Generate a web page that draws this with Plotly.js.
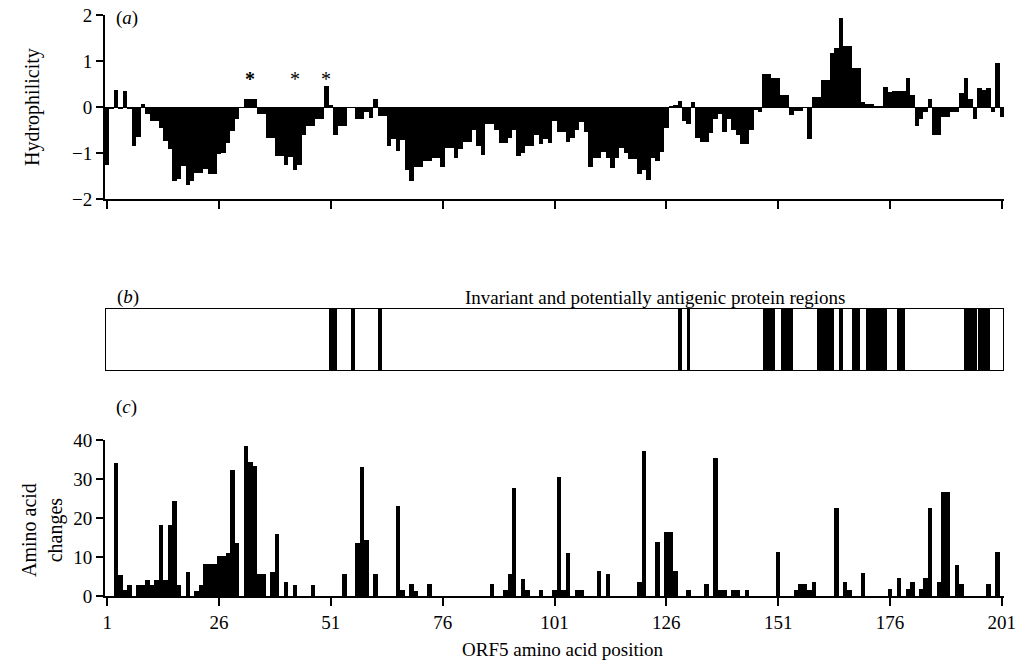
<!DOCTYPE html>
<html><head><meta charset="utf-8">
<script src="https://cdn.plot.ly/plotly-3.0.1.min.js"></script>
<style>html,body{margin:0;padding:0;background:#fff}#chart{width:1021px;height:666px}</style>
</head><body><div id="chart"></div>
<script>
// Panel (a): hydrophilicity per residue 1..201
const hydrophilicity = [
 -1.25,-0.05,0.38,-0.05,0.35,-0.05,-0.85,-0.65,0.07,-0.16,
 -0.3,-0.3,-0.45,-0.74,-0.92,-1.61,-1.57,-1.28,-1.7,-1.61,
 -1.43,-1.43,-1.35,-1.45,-1.45,-1.03,-1.01,-0.78,-0.52,-0.27,
 -0.02,0.17,0.17,0.17,-0.16,-0.16,-0.67,-0.67,-1.06,-1.06,
 -1.26,-1.09,-1.38,-1.25,-0.6,-0.42,-0.42,-0.27,-0.27,0.46,
 0.05,-0.6,-0.42,-0.42,-0.02,-0.02,-0.27,-0.27,-0.1,-0.23,
 0.17,-0.2,-0.2,-0.85,-0.7,-0.95,-0.72,-1.38,-1.6,-1.3,
 -1.3,-1.17,-1.17,-1.1,-1.1,-1.3,-0.9,-0.9,-1.1,-0.92,
 -0.75,-0.75,-0.5,-0.85,-1.05,-0.38,-0.38,-0.5,-0.78,-0.78,
 -0.67,-0.5,-1.07,-1.0,-0.85,-0.85,-0.6,-0.8,-0.7,-0.78,
 -0.3,-0.55,-0.55,-0.75,-0.68,-0.5,-0.33,-0.55,-1.3,-1.1,
 -1.1,-0.97,-1.1,-1.33,-1.1,-0.9,-1.0,-1.12,-1.12,-1.45,
 -1.38,-1.58,-1.1,-1.18,-0.98,-0.45,0.03,0.05,0.14,-0.3,
 -0.38,0.1,-0.68,-0.75,-0.75,-0.57,-0.27,-0.15,-0.55,-0.25,
 -0.5,-0.6,-0.8,-0.8,-0.5,-0.07,-0.1,0.72,0.72,0.62,
 0.62,0.27,0.27,-0.18,-0.08,-0.08,-0.03,-0.7,0.22,0.22,
 0.58,0.58,1.18,1.28,1.93,1.32,1.32,0.85,0.85,0.1,
 0.07,0.07,0.02,0.02,0.43,0.32,0.35,0.35,0.35,0.62,
 0.27,-0.42,-0.27,-0.1,0.17,-0.6,-0.6,-0.22,-0.22,-0.1,
 -0.1,0.3,0.62,0.17,-0.27,0.42,0.38,0.42,-0.1,0.95,
 -0.22
];
const residues = hydrophilicity.map((v, i) => i + 1);

// Asterisk marks in panel (a)
const asteriskPositions = [33, 43, 50];

// Panel (b): invariant / potentially antigenic regions (start, end residue)
const bandStart = [51,56,62,129,131,148,152,160,165,168,171,178,193,196];
const bandEnd   = [52,56,62,129,131,150,154,163,165,169,175,179,195,198];

// Panel (c): amino acid changes (non-zero positions)
const changePositions = [3,4,5,6,8,9,10,11,12,13,14,15,16,17,19,21,22,23,24,25,26,27,28,29,30,32,33,34,35,36,38,39,41,43,47,54,57,58,59,61,66,67,69,70,73,87,90,91,92,94,95,98,101,102,103,104,106,107,111,113,120,121,124,126,127,128,131,135,137,138,139,141,142,144,151,155,156,157,158,159,164,166,167,170,176,178,180,181,183,184,185,187,188,189,191,192,198,200];
const changeValues = [34,5.5,1.5,2.7,2.7,2.7,4,2.7,4,18.3,4,18.3,24.3,2.9,6.2,1.3,2.9,8.3,8.3,8.3,10.3,10.3,10.9,32.2,13.7,38.4,34.3,33.3,5.7,5.7,6.2,15.8,3.5,2.9,2.9,5.7,13.5,33,14.4,5.7,23.1,1.6,3,1.3,3,3,1.6,5.7,27.7,4.3,1.6,1.6,1.6,30.4,1.6,10.9,1.6,1.6,6.4,5.7,3.7,37.3,13.9,16.5,16.5,6.4,1.6,3,35.4,1.6,1.6,1.6,1.6,1.6,11.2,1.6,3,3,1.6,3.7,22.6,3.7,1.6,5.9,1.8,4.5,1.8,3.7,1.8,4.5,22.6,3.7,26.7,26.7,8,3.2,3.2,11.4];

const xTicks = [1,26,51,76,101,126,151,176,201];

const FONT = 'Liberation Serif, Times New Roman, serif';
const traces = [
  {type:'bar', x:residues, y:hydrophilicity, width:1, xaxis:'x', yaxis:'y',
   marker:{color:'#000', line:{width:0}}, hoverinfo:'x+y'},
  {type:'bar', x:bandStart.map((s,i)=>(s+bandEnd[i])/2), y:bandStart.map(()=>1), base:0,
   width:bandStart.map((s,i)=>bandEnd[i]-s+0.8), xaxis:'x2', yaxis:'y2',
   marker:{color:'#000', line:{width:0}}, hoverinfo:'x'},
  {type:'bar', x:changePositions, y:changeValues, width:1, xaxis:'x3', yaxis:'y3',
   marker:{color:'#000', line:{width:0}}, hoverinfo:'x+y'}
];

const axBase = {showgrid:false, zeroline:false, showline:true, linecolor:'#000', linewidth:2,
  ticks:'outside', tickcolor:'#000', tickwidth:2, tickfont:{family:FONT, size:19, color:'#000'}};

const W = 899, H = 666;
const px = v => (v - 105) / W;
const py = v => (H - v) / H;

function note(x, y, text, extra) {
  return Object.assign({xref:'paper', yref:'paper', x:px(x), y:py(y), text:text, showarrow:false,
    xanchor:'center', yanchor:'middle', font:{size:19}}, extra || {});
}

const layout = {
  width:1021, height:666, margin:{l:105, r:17, t:0, b:0},
  paper_bgcolor:'#fff', plot_bgcolor:'rgba(0,0,0,0)', showlegend:false, bargap:0,
  font:{family:FONT, color:'#000'},
  xaxis: Object.assign({}, axBase, {range:[0.5,201.5], anchor:'y', tickvals:xTicks, showticklabels:false, ticklen:8}),
  yaxis: Object.assign({}, axBase, {range:[-2,2], domain:[py(199), py(15)], tickvals:[-2,-1,0,1,2], ticklen:7,
          zeroline:true, zerolinecolor:'#000', zerolinewidth:1}),
  xaxis2: {range:[0.5,201.5], anchor:'y2', visible:false},
  yaxis2: {range:[0,1], domain:[py(371), py(308)], visible:false},
  xaxis3: Object.assign({}, axBase, {range:[0.5,201.5], anchor:'y3', tickvals:xTicks, ticklen:8}),
  yaxis3: Object.assign({}, axBase, {range:[0,40], domain:[py(596), py(440)], tickvals:[0,10,20,30,40], ticklen:7}),
  shapes:[{type:'rect', xref:'x2', yref:'y2', x0:0.5, x1:201.5, y0:0, y1:1, line:{color:'#000', width:2}}],
  annotations:[
    note(127, 18, '(<i>a</i>)'),
    note(128, 297, '(<i>b</i>)'),
    note(655, 297, 'Invariant and potentially antigenic protein regions'),
    note(126, 407, '(<i>c</i>)'),
    note(33, 107, 'Hydrophilicity', {textangle:-90, font:{size:20}}),
    note(42, 530, 'Amino acid<br>changes', {textangle:-90, font:{size:20}}),
    note(563, 649, 'ORF5 amino acid position')
  ].concat(asteriskPositions.map((p,i)=>({xref:'x', yref:'y', x:p, y:0.6, text:i===0?'<b>*</b>':'*',
     showarrow:false, xanchor:'center', yanchor:'middle', font:{size:20}})))
};

Plotly.newPlot('chart', traces, layout, {displayModeBar:false, staticPlot:true});
</script></body></html>
